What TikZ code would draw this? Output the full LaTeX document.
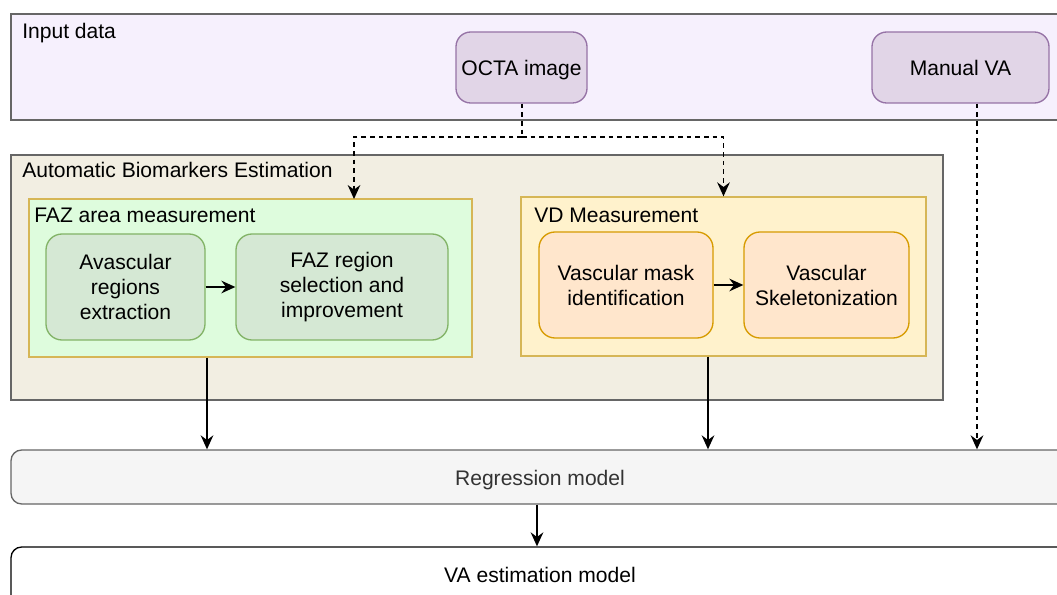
\documentclass[tikz,border=0pt]{standalone}
\usepackage{fontspec}
\setmainfont{Liberation Sans}
\usetikzlibrary{arrows.meta,fit}
\definecolor{inpfill}{HTML}{F6F0FD}
\definecolor{purfill}{HTML}{E1D5E7}
\definecolor{purdraw}{HTML}{9673A6}
\definecolor{autofill}{HTML}{F2EEE2}
\definecolor{grydraw}{HTML}{666666}
\definecolor{fazfill}{HTML}{DEFCDD}
\definecolor{yeldraw}{HTML}{D6B656}
\definecolor{grnfill}{HTML}{D5E8D4}
\definecolor{grndraw}{HTML}{82B366}
\definecolor{vdfill}{HTML}{FFF2CC}
\definecolor{orgfill}{HTML}{FFE6CC}
\definecolor{orgdraw}{HTML}{D79B00}
\definecolor{regfill}{HTML}{F5F5F5}
\definecolor{regtext}{HTML}{333333}
\tikzset{
  txt/.style={font=\fontsize{15.8}{18.75}\selectfont, text=black, align=center},
  box/.style={inner sep=0pt, line width=1pt},
  grp/.style={box, rectangle},
  rbox/.style={box, rounded corners=11pt},
  conn/.style={line width=1.1pt, -{Stealth[length=10.5pt,width=9.5pt,inset=3.5pt]}},
  dconn/.style={conn, dash pattern=on 3.5pt off 3pt},
  grplabel/.style={txt, anchor=west, inner sep=0pt}
}
\begin{document}
\begin{tikzpicture}[x=0.75pt,y=-0.75pt]
\clip (0,0) rectangle (1057,595);
\fill[white] (0,0) rectangle (1057,595);

% groups
\node[grp, fill=inpfill, draw=grydraw, fit={(11,14) (1075,120)}] (inp) {};
\node[grplabel] (inplab) at (22,33) {Input data};
\node[grp, fill=autofill, draw=grydraw, fit={(11,155) (943,400)}] (auto) {};
\node[grplabel] (autolab) at (22,170) {Automatic Biomarkers Estimation};
\node[grp, fill=fazfill, draw=yeldraw, fit={(29,199) (472,357)}] (faz) {};
\node[grplabel] (fazlab) at (34,215) {FAZ area measurement};
\node[grp, fill=vdfill, draw=yeldraw, fit={(521,197) (926,356)}] (vd) {};
\node[grplabel] (vdlab) at (534,215) {VD Measurement};

% input nodes
\node[rbox, fill=purfill, draw=purdraw, fit={(456,32) (587,103)}] (octa) {};
\node[txt, yshift=-2.2pt] (octalab) at (octa.center) {OCTA image};
\node[rbox, fill=purfill, draw=purdraw, fit={(872,32) (1049,103)}] (manual) {};
\node[txt, yshift=-0.7pt] (manuallab) at (manual.center) {Manual VA};

% FAZ steps
\node[rbox, rounded corners=12pt, fill=grnfill, draw=grndraw, fit={(46,234) (205,340)}] (avas) {};
\node[txt] (avaslab) at (avas.center) {Avascular\\regions\\extraction};
\node[rbox, rounded corners=12pt, fill=grnfill, draw=grndraw, fit={(236,234) (448,340)}] (fazsel) {};
\node[txt] (fazsellab) at (fazsel.center) {FAZ region\\selection and\\improvement};

% VD steps
\node[rbox, rounded corners=12pt, fill=orgfill, draw=orgdraw, fit={(539,232) (713,338)}] (vmask) {};
\node[txt, yshift=-0.7pt] (vmasklab) at (vmask.center) {Vascular mask\\identification};
\node[rbox, rounded corners=12pt, fill=orgfill, draw=orgdraw, fit={(744,232) (909,338)}] (vskel) {};
\node[txt, yshift=-0.7pt] (vskellab) at (vskel.center) {Vascular\\Skeletonization};

% models
\node[rbox, rounded corners=8pt, fill=regfill, draw=grydraw, fit={(11,450) (1080,504)}] (regr) {};
\node[txt, text=regtext] (regrlab) at (540,480) {Regression model};
\node[rbox, rounded corners=8pt, fill=white, draw=black, fit={(11,547) (1080,620)}] (vaest) {};
\node[txt] (vaestlab) at (540,575) {VA estimation model};

% connectors
\coordinate (j) at (522,137);
\coordinate (fazin) at (354,199);
\coordinate (mvx) at (977,0);
\coordinate (fazx) at (207,0);
\coordinate (vdx) at (708,0);
\coordinate (regx) at (537,0);

\draw[conn] (avas) -- (fazsel);
\draw[conn] (vmask) -- (vskel);
\draw[dconn, -] (octa.south -| j) -- (j);
\draw[dconn] (j) -| (fazin);
\draw[dconn] (j) -| (vd.north);
\draw[dconn] (manual.south -| mvx) -- (regr.north -| mvx);
\draw[conn] (faz.south -| fazx) -- (regr.north -| fazx);
\draw[conn] (vd.south -| vdx) -- (regr.north -| vdx);
\draw[conn] (regr.south -| regx) -- (vaest.north -| regx);
\end{tikzpicture}
\end{document}
